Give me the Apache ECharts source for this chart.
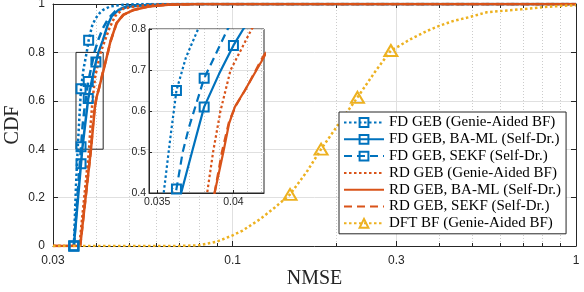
<!DOCTYPE html>
<html><head><meta charset="utf-8">
<script src="https://cdn.jsdelivr.net/npm/echarts@6/dist/echarts.min.js"></script>
<style>html,body{margin:0;padding:0;background:#fff}#c{width:584px;height:292px}</style>
</head><body><div id="c"></div>
<script>
// ---------- data ----------
const seriesNames = [
  'FD GEB (Genie-Aided BF)',
  'FD GEB, BA-ML (Self-Dr.)',
  'FD GEB, SEKF (Self-Dr.)',
  'RD GEB (Genie-Aided BF)',
  'RD GEB, BA-ML (Self-Dr.)',
  'RD GEB, SEKF (Self-Dr.)',
  'DFT BF (Genie-Aided BF)'
];
const xMajorTicks = [0.03, 0.1, 0.3, 1];
const xMajorLabels = ['0.03', '0.1', '0.3', '1'];
const xMinorTicks = [0.04, 0.05, 0.06, 0.07, 0.08, 0.09, 0.2, 0.4, 0.5, 0.6, 0.7, 0.8, 0.9];
const insetXTicks = [0.035, 0.04];
const insetXLabels = ['0.035', '0.04'];
const insetXGrid = [0.035, 0.036, 0.037, 0.038, 0.039, 0.04, 0.041, 0.042];
const zoomBox = [[0.035, 0.4], [0.042, 0.8]];

// curves: [NMSE, CDF]
const fdGenie = [[0.0345,0],[0.0350,0.25],[0.0354,0.40],[0.0358,0.53],[0.0362,0.65],[0.0368,0.73],[0.0376,0.80],[0.0381,0.85],[0.0390,0.91],[0.0399,0.94],[0.0410,0.962],[0.0419,0.975],[0.0440,0.99],[0.0480,0.997],[0.0550,1],[1,1]];
const fdGenieMarks = [0.0345, 0.0362, 0.0381];
const fdBaml = [[0.0345,0],[0.0362,0.34],[0.0365,0.40],[0.0372,0.50],[0.0380,0.61],[0.0390,0.69],[0.0400,0.76],[0.0407,0.80],[0.0419,0.85],[0.0432,0.91],[0.0445,0.95],[0.0465,0.975],[0.0500,0.99],[0.0580,0.997],[0.0700,1],[1,1]];
const fdBamlMarks = [0.0345, 0.0362, 0.0380, 0.0400];
const fdSekf = [[0.0345,0],[0.0362,0.41],[0.0366,0.50],[0.0370,0.56],[0.0380,0.68],[0.0388,0.74],[0.0396,0.80],[0.0406,0.85],[0.0419,0.90],[0.0435,0.94],[0.0455,0.97],[0.0490,0.99],[0.0550,0.997],[0.0650,1],[1,1]];
const fdSekfMarks = [0.0345, 0.0362, 0.0380];
const rdGenie = [[0.03,0],[0.0358,0],[0.0382,0.40],[0.0386,0.50],[0.0391,0.60],[0.0398,0.70],[0.0413,0.80],[0.0425,0.85],[0.0438,0.90],[0.0455,0.95],[0.0480,0.98],[0.0520,0.99],[0.0600,0.998],[0.0750,1],[1,1]];
const rdBaml = [[0.03,0],[0.0360,0],[0.0387,0.40],[0.0393,0.50],[0.0397,0.57],[0.0401,0.61],[0.0408,0.65],[0.0420,0.72],[0.0430,0.78],[0.0440,0.84],[0.0459,0.92],[0.0480,0.955],[0.0512,0.974],[0.0570,0.99],[0.0650,0.997],[0.0800,1],[1,1]];
const rdSekf = [[0.03,0],[0.0360,0],[0.0387,0.40],[0.0392,0.50],[0.0397,0.575],[0.0402,0.615],[0.0409,0.655],[0.0420,0.725],[0.0431,0.785],[0.0441,0.845],[0.0460,0.922],[0.0482,0.956],[0.0514,0.975],[0.0570,0.99],[0.0650,0.997],[0.0800,1],[1,1]];
const dft = [[0.03,0],[0.07,0],[0.08,0.003],[0.09,0.018],[0.1,0.044],[0.107,0.064],[0.12,0.11],[0.133,0.16],[0.147,0.213],[0.165,0.31],[0.181,0.40],[0.205,0.51],[0.231,0.614],[0.26,0.72],[0.289,0.808],[0.30,0.82],[0.33,0.855],[0.37,0.89],[0.40,0.91],[0.44,0.93],[0.49,0.946],[0.55,0.966],[0.69,0.978],[0.8,0.987],[0.9,0.992],[1.0,0.995]];
const dftMarks = [0.147, 0.181, 0.231, 0.289];

// ---------- styling ----------
const BLUE = '#0072BD', RED = '#D95319', YEL = '#EDB120', AX = '#262626';
const DOT = [2.5, 2.5], DASH = [8, 5];
const SANS = 'Liberation Sans', SERIF = 'Liberation Serif';

const curves = [
  {name: seriesNames[0], pts: fdGenie, marks: fdGenieMarks, color: BLUE, type: DOT, symbol: 'rect', size: 9},
  {name: seriesNames[1], pts: fdBaml, marks: fdBamlMarks, color: BLUE, type: 'solid', symbol: 'rect', size: 9},
  {name: seriesNames[2], pts: fdSekf, marks: fdSekfMarks, color: BLUE, type: DASH, symbol: 'rect', size: 9},
  {name: seriesNames[3], pts: rdGenie, marks: [], color: RED, type: DOT, symbol: 'none', size: 0},
  {name: seriesNames[4], pts: rdBaml, marks: [], color: RED, type: 'solid', symbol: 'none', size: 0},
  {name: seriesNames[5], pts: rdSekf, marks: [], color: RED, type: DASH, symbol: 'none', size: 0},
  {name: seriesNames[6], pts: dft, marks: dftMarks, color: YEL, type: DOT, symbol: 'triangle', size: [13, 11]}
];

function mk(c, xi, yi, z, lw) {
  const hasSym = c.symbol !== 'none';
  return {
    type: 'line', name: c.name, xAxisIndex: xi, yAxisIndex: yi, z: z,
    symbol: c.symbol, symbolSize: c.size, showSymbol: hasSym,
    animation: false, silent: true, clip: true,
    lineStyle: {color: c.color, width: lw, type: c.type, cap: 'butt'},
    itemStyle: {color: 'rgba(255,255,255,0)', borderColor: c.color, borderWidth: 2},
    data: c.pts.map(p => ({value: p, symbol: (hasSym && c.marks.indexOf(p[0]) >= 0) ? c.symbol : 'none'}))
  };
}

const series = [];
curves.forEach(c => series.push(mk(c, 0, 0, 2, 2.5)));
curves.forEach(c => series.push(mk(c, 3, 2, 7, 2.2)));
series[0].markArea = {
  silent: true,
  itemStyle: {color: 'rgba(0,0,0,0)', borderColor: AX, borderWidth: 1},
  data: [[{coord: zoomBox[0]}, {coord: zoomBox[1]}]]
};

const legendData = curves.map(c => c.symbol === 'none'
  ? {name: c.name, itemStyle: {opacity: 0, color: 'rgba(0,0,0,0)', borderColor: 'rgba(0,0,0,0)'}}
  : {name: c.name});

const fmt = (vals, labs) => v => { for (let i = 0; i < vals.length; i++) if (Math.abs(v - vals[i]) < 1e-9) return labs[i]; return ''; };

const option = {
  animation: false,
  backgroundColor: '#fff',
  textStyle: {fontFamily: SANS},
  grid: [
    {left: 53, top: 4, width: 523, height: 242, show: false, outerBoundsMode: 'none'},
    {left: 149, top: 29, width: 115, height: 164, show: true, backgroundColor: '#fff', borderColor: AX, borderWidth: 1, z: 5, outerBoundsMode: 'none'}
  ],
  xAxis: [
    {type: 'log', gridIndex: 0, min: 0.03, max: 1, position: 'bottom',
     name: 'NMSE', nameLocation: 'middle', nameGap: 23, nameMoveOverlap: false,
     nameTextStyle: {fontFamily: SERIF, fontSize: 20, color: AX},
     axisLine: {show: true, lineStyle: {color: AX, width: 1}},
     axisTick: {show: true, inside: true, length: 5, customValues: xMajorTicks, lineStyle: {color: AX}},
     axisLabel: {show: true, customValues: xMajorTicks, formatter: fmt(xMajorTicks, xMajorLabels), margin: 9, fontFamily: SANS, fontSize: 12, color: AX},
     splitLine: {show: true, lineStyle: {color: '#e0e0e0', width: 1}},
     minorTick: {show: false}, minorSplitLine: {show: false}},
    {type: 'log', gridIndex: 0, min: 0.03, max: 1, position: 'bottom',
     axisLine: {show: false},
     axisTick: {show: true, inside: true, length: 3, customValues: xMinorTicks, lineStyle: {color: AX}},
     axisLabel: {show: false},
     splitLine: {show: true, lineStyle: {color: '#cccccc', width: 1, type: [1, 2]}}},
    {type: 'log', gridIndex: 0, min: 0.03, max: 1, position: 'top',
     axisLine: {show: true, lineStyle: {color: AX, width: 1}},
     axisTick: {show: true, inside: true, length: 4, customValues: xMajorTicks.concat(xMinorTicks), lineStyle: {color: AX}},
     axisLabel: {show: false}, splitLine: {show: false}},
    {type: 'log', gridIndex: 1, min: 0.0345, max: 0.0422, position: 'bottom', z: 6,
     axisLine: {show: true, lineStyle: {color: AX, width: 1}},
     axisTick: {show: true, inside: true, length: 3, customValues: insetXTicks, lineStyle: {color: AX}},
     axisLabel: {show: true, customValues: insetXTicks, formatter: fmt(insetXTicks, insetXLabels), margin: 4, fontFamily: SANS, fontSize: 10.5, color: AX},
     splitLine: {show: false}},
    {type: 'log', gridIndex: 1, min: 0.0345, max: 0.0422, position: 'bottom', z: 6,
     axisLine: {show: false},
     axisTick: {show: false, customValues: insetXGrid},
     axisLabel: {show: false},
     splitLine: {show: true, lineStyle: {color: '#c8c8c8', width: 1, type: [1, 2]}}}
  ],
  yAxis: [
    {type: 'value', gridIndex: 0, min: 0, max: 1, interval: 0.2, position: 'left',
     name: 'CDF', nameLocation: 'middle', nameGap: 30, nameMoveOverlap: false,
     nameTextStyle: {fontFamily: SERIF, fontSize: 20, color: AX},
     axisLine: {show: true, lineStyle: {color: AX, width: 1}},
     axisTick: {show: true, inside: true, length: 5, lineStyle: {color: AX}},
     axisLabel: {margin: 8, fontFamily: SANS, fontSize: 12, color: AX},
     splitLine: {show: true, lineStyle: {color: '#e0e0e0', width: 1}}},
    {type: 'value', gridIndex: 0, min: 0, max: 1, interval: 0.2, position: 'right',
     axisLine: {show: true, lineStyle: {color: AX, width: 1}},
     axisTick: {show: true, inside: true, length: 5, lineStyle: {color: AX}},
     axisLabel: {show: false}, splitLine: {show: false}},
    {type: 'value', gridIndex: 1, min: 0.4, max: 0.8, interval: 0.1, position: 'left', z: 6,
     axisLine: {show: true, lineStyle: {color: AX, width: 1}},
     axisTick: {show: true, inside: true, length: 3, lineStyle: {color: AX}},
     axisLabel: {margin: 3, fontFamily: SANS, fontSize: 10.5, color: AX},
     splitLine: {show: true, lineStyle: {color: '#e0e0e0', width: 1}}}
  ],
  legend: {
    data: legendData, orient: 'vertical', left: 339, top: 112,
    itemWidth: 40, itemHeight: 11, itemGap: 1.8,
    padding: [3, 5, 3, 4],
    backgroundColor: '#fff', borderColor: AX, borderWidth: 1, borderRadius: 0,
    textStyle: {fontFamily: SERIF, fontSize: 15, color: '#000'},
    selectedMode: false, z: 10
  },
  series: series
};

const chart = echarts.init(document.getElementById('c'), null, {renderer: 'canvas'});
chart.setOption(option);
</script>
</body></html>
